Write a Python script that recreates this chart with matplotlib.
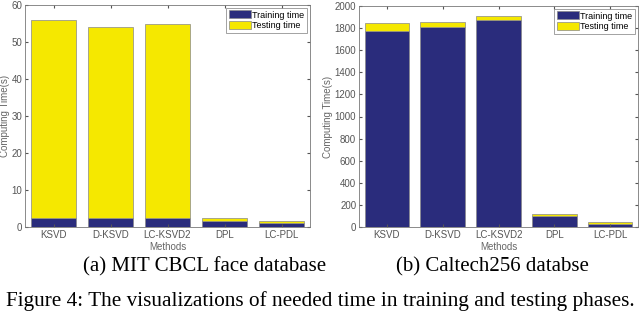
import numpy as np
import matplotlib.pyplot as plt

methods = ['KSVD', 'D-KSVD', 'LC-KSVD2', 'DPL', 'LC-PDL']

# (a) MIT CBCL face database
train_a = [2.3, 2.5, 2.4, 1.6, 1.0]
test_a = [53.7, 51.5, 52.6, 0.7, 0.5]

# (b) Caltech256
train_b = [1770, 1810, 1870, 100, 25]
test_b = [75, 45, 40, 22, 20]

navy = '#2a2c7c'
yellow = '#f5e800'
grey = '#555555'

plt.rcParams['font.family'] = ['Liberation Sans', 'DejaVu Sans']

fig = plt.figure(figsize=(6.4, 3.11), dpi=100)
ax1 = fig.add_axes([25/640, 1-227/311, 285/640, 222/311])
ax2 = fig.add_axes([359/640, 1-227/311, 279/640, 221/311])


def draw(ax, train, test, ylim, step):
    x = np.arange(1, len(methods) + 1)
    ax.bar(x, train, 0.8, color=navy, edgecolor='#888888', linewidth=0.5,
           label='Training time')
    ax.bar(x, test, 0.8, bottom=train, color=yellow, edgecolor='#888888',
           linewidth=0.5, label='Testing time')
    ax.set_xlim(0.5, len(methods) + 0.5)
    ax.set_ylim(0, ylim)
    ax.set_yticks(np.arange(0, ylim + 1, step))
    ax.set_xticks(x)
    ax.set_xticklabels(methods)
    ax.tick_params(direction='in', length=2, labelsize=7, colors=grey,
                   top=True, right=True, pad=2)
    for s in ax.spines.values():
        s.set_color('#777777')
        s.set_linewidth(0.6)
    ax.set_xlabel('Methods', fontsize=7, color='#666666', labelpad=1.5)
    ax.set_ylabel('Computing Time(s)', fontsize=7, color='#666666', labelpad=1)
    leg = ax.legend(loc='upper right', fontsize=6.5, frameon=True, fancybox=False,
                    borderpad=0.3, handlelength=2.4, handleheight=1.0,
                    handletextpad=0.2, labelspacing=0.15, borderaxespad=0.3)
    leg.get_frame().set_edgecolor('#777777')
    leg.get_frame().set_linewidth(0.6)


draw(ax1, train_a, test_a, 60, 10)
draw(ax2, train_b, test_b, 2000, 200)

fig.text(205/640, 1-267/311, '(a) MIT CBCL face database', family='Liberation Serif',
         fontsize=15, ha='center', va='center')
fig.text(492/640, 1-267/311, '(b) Caltech256 databse', family='Liberation Serif',
         fontsize=15, ha='center', va='center')
fig.text(320/640, 1-301/311, 'Figure 4: The visualizations of needed time in training and testing phases.',
         family='Liberation Serif', fontsize=15.3, ha='center', va='center')

fig.savefig('out.png', dpi=100)
